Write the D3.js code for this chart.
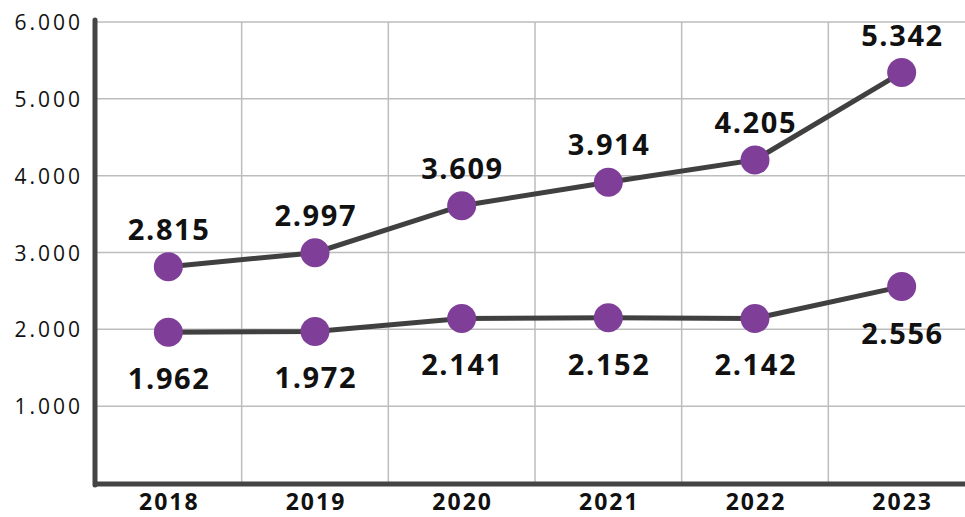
<!DOCTYPE html>
<html>
<head>
<meta charset="utf-8">
<script src="https://d3js.org/d3.v7.min.js"></script>
<style>
  body { margin: 0; background: #fff; }
  text { font-family: "Open Sans", sans-serif; }
</style>
</head>
<body>
<div id="chart"></div>
<script>
const years = ["2018", "2019", "2020", "2021", "2022", "2023"];
const upperValues = [2815, 2997, 3609, 3914, 4205, 5342];
const lowerValues = [1962, 1972, 2141, 2152, 2142, 2556];
const yTicks = [1000, 2000, 3000, 4000, 5000, 6000];

const width = 965, height = 517;

const locale = d3.formatLocale({decimal: ",", thousands: ".", grouping: [3], currency: ["", ""]});
const fmt = locale.format(",.0f");

const svg = d3.select("#chart")
  .append("svg")
    .attr("width", width)
    .attr("height", height);

const x = d3.scaleBand()
  .domain(years)
  .range([95, 975]);

const y = d3.scaleLinear()
  .domain([0, 6000])
  .range([483, 22]);

// grid
svg.append("g")
  .selectAll("line")
  .data(yTicks)
  .join("line")
    .attr("x1", 95).attr("x2", width)
    .attr("y1", d => y(d)).attr("y2", d => y(d))
    .style("stroke", "#bdbdbd")
    .attr("stroke-width", 1.5);

svg.append("g")
  .selectAll("line")
  .data(years.slice(1))
  .join("line")
    .attr("x1", d => x(d)).attr("x2", d => x(d))
    .attr("y1", y(6000)).attr("y2", y(0))
    .style("stroke", "#bdbdbd")
    .attr("stroke-width", 1.5);

// y labels
svg.append("g")
  .selectAll("text")
  .data(yTicks)
  .join("text")
    .attr("x", 83)
    .attr("y", d => y(d) + 8)
    .attr("text-anchor", "end")
    .attr("font-size", 21)
    .attr("letter-spacing", 3)
    .style("fill", "#111")
    .text(d => fmt(d));

// x labels
svg.append("g")
  .selectAll("text")
  .data(years)
  .join("text")
    .attr("x", d => x(d) + x.bandwidth() / 2 + 1)
    .attr("y", 510)
    .attr("text-anchor", "middle")
    .attr("font-size", 23)
    .attr("font-weight", "bold")
    .attr("letter-spacing", 2)
    .style("fill", "#111")
    .text(d => d);

// axes lines
svg.append("line")
  .attr("x1", 95).attr("x2", 95)
  .attr("y1", 20).attr("y2", 485)
  .style("stroke", "#444")
  .attr("stroke-width", 5)
  .attr("stroke-linecap", "round");

svg.append("line")
  .attr("x1", 93).attr("x2", width)
  .attr("y1", 484).attr("y2", 484)
  .style("stroke", "#444")
  .attr("stroke-width", 5);

const line = d3.line()
  .x((d, i) => x(years[i]) + x.bandwidth() / 2)
  .y(d => y(d));

const series = [
  {values: upperValues, dy: -27},
  {values: lowerValues, dy: 57}
];

series.forEach(s => {
  svg.append("path")
    .datum(s.values)
    .attr("d", line)
    .style("fill", "none")
    .style("stroke", "#404040")
    .attr("stroke-width", 5);

  svg.append("g")
    .selectAll("circle")
    .data(s.values)
    .join("circle")
      .attr("cx", (d, i) => x(years[i]) + x.bandwidth() / 2)
      .attr("cy", d => y(d))
      .attr("r", 14.5)
      .style("fill", "#7f3f98");

  svg.append("g")
    .selectAll("text")
    .data(s.values)
    .join("text")
      .attr("x", (d, i) => x(years[i]) + x.bandwidth() / 2 + 0.8)
      .attr("y", d => y(d) + s.dy)
      .attr("text-anchor", "middle")
      .attr("font-size", 29)
      .attr("font-weight", "bold")
      .attr("letter-spacing", 1.6)
      .style("fill", "#111")
      .text(d => fmt(d));
});
</script>
</body>
</html>
